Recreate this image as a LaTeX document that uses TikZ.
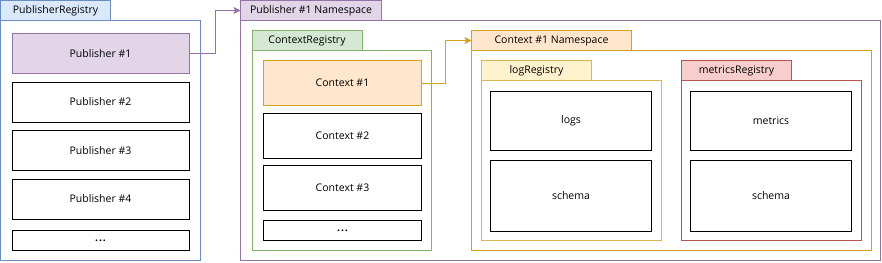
\documentclass[tikz,border=0pt]{standalone}
\usepackage{fontspec}
\setmainfont{Open Sans}
\usetikzlibrary{arrows.meta, positioning}
\definecolor{bluefill}{HTML}{DAE8FC}
\definecolor{blueline}{HTML}{6C8EBF}
\definecolor{purplefill}{HTML}{E1D5E7}
\definecolor{purpleline}{HTML}{9673A6}
\definecolor{greenfill}{HTML}{D5E8D4}
\definecolor{greenline}{HTML}{82B366}
\definecolor{orangefill}{HTML}{FFE6CC}
\definecolor{orangeline}{HTML}{D6A21E}
\definecolor{yellowfill}{HTML}{FFF2CC}
\definecolor{yellowline}{HTML}{D6B656}
\definecolor{redfill}{HTML}{F8CECC}
\definecolor{redline}{HTML}{B85450}

\begin{document}
\begin{tikzpicture}[
    x=1pt, y=-1pt, line width=1pt,
    font=\fontsize{10.5}{12}\selectfont,
    frame/.style={rectangle, draw=#1line, inner sep=0pt, outer sep=0pt},
    tab/.style={rectangle, draw=#1line, fill=#1fill, minimum width=110pt,
                minimum height=20pt, inner sep=0pt, outer sep=0pt},
    item/.style={rectangle, draw=black, fill=white, inner sep=0pt,
                 outer sep=0pt, minimum width=#1},
    arrow/.style={-{Stealth[length=7pt, width=7pt, inset=1.5pt]}, color=#1line}
]
\useasboundingbox (0,0) rectangle (882,262);

% Publisher registry
\node[frame=blue, minimum width=200pt, minimum height=240pt] (pubreg) at (100.5,140.5) {};
\node[tab=blue, above right=0pt and 0pt of pubreg.north west] (pubregtab) {PublisherRegistry};
\node[item=177pt, minimum height=40pt, fill=purplefill, draw=purpleline] (pub1) at (100.5,53.5) {Publisher \#1};
\node[item=177pt, minimum height=40pt, below=8.5pt of pub1] (pub2) {Publisher \#2};
\node[item=177pt, minimum height=40pt, below=8.5pt of pub2] (pub3) {Publisher \#3};
\node[item=177pt, minimum height=40pt, below=8.5pt of pub3] (pub4) {Publisher \#4};
\node[item=177pt, minimum height=20pt, below=11.5pt of pub4] (pubmore) {\textbf{.\kern1pt.\kern1pt.}};

% Publisher #1 namespace
\node[frame=purple, minimum width=640pt, minimum height=240pt] (pubns) at (560.5,140.5) {};
\node[tab=purple, minimum width=141pt, above right=0pt and 0pt of pubns.north west] (pubnstab) {Publisher \#1 Namespace};

% Context registry
\node[frame=green, minimum width=179pt, minimum height=200pt] (ctxreg) at (341.5,150.5) {};
\node[tab=green, above right=0pt and 0pt of ctxreg.north west] (ctxregtab) {ContextRegistry};
\node[item=158pt, minimum height=45pt, fill=orangefill, draw=orangeline] (ctx1) at (342.5,83) {Context \#1};
\node[item=158pt, minimum height=45pt, below=8pt of ctx1] (ctx2) {Context \#2};
\node[item=158pt, minimum height=45pt, below=7pt of ctx2] (ctx3) {Context \#3};
\node[item=158pt, minimum height=20pt, below=10pt of ctx3] (ctxmore) {\textbf{.\kern1pt.\kern1pt.}};

% Context #1 namespace
\node[frame=orange, minimum width=400pt, minimum height=200pt] (ctxns) at (671.5,150.5) {};
\node[tab=orange, minimum width=160pt, above right=0pt and 0pt of ctxns.north west] (ctxnstab) {Context \#1 Namespace};

% Log registry
\node[frame=yellow, minimum width=180pt, minimum height=160pt] (logreg) at (571.5,160.5) {};
\node[tab=yellow, above right=0pt and 0pt of logreg.north west] (logregtab) {logRegistry};
\node[item=161pt, minimum height=59pt] (logs) at (571,121) {logs};
\node[item=161pt, minimum height=71pt, below=10pt of logs] (logschema) {schema};

% Metrics registry
\node[frame=red, minimum width=180pt, minimum height=160pt] (metreg) at (771.5,160.5) {};
\node[tab=red, above right=0pt and 0pt of metreg.north west] (metregtab) {metricsRegistry};
\node[item=161pt, minimum height=59pt] (metrics) at (771,121) {metrics};
\node[item=161pt, minimum height=71pt, below=10pt of metrics] (metschema) {schema};

% Arrows
\draw[arrow=purple] (pub1.east) -- ++(26,0) |- (pubnstab.west);
\draw[arrow=orange] (ctx1.east) -- ++(24,0) |- (ctxnstab.west);

\end{tikzpicture}
\end{document}
